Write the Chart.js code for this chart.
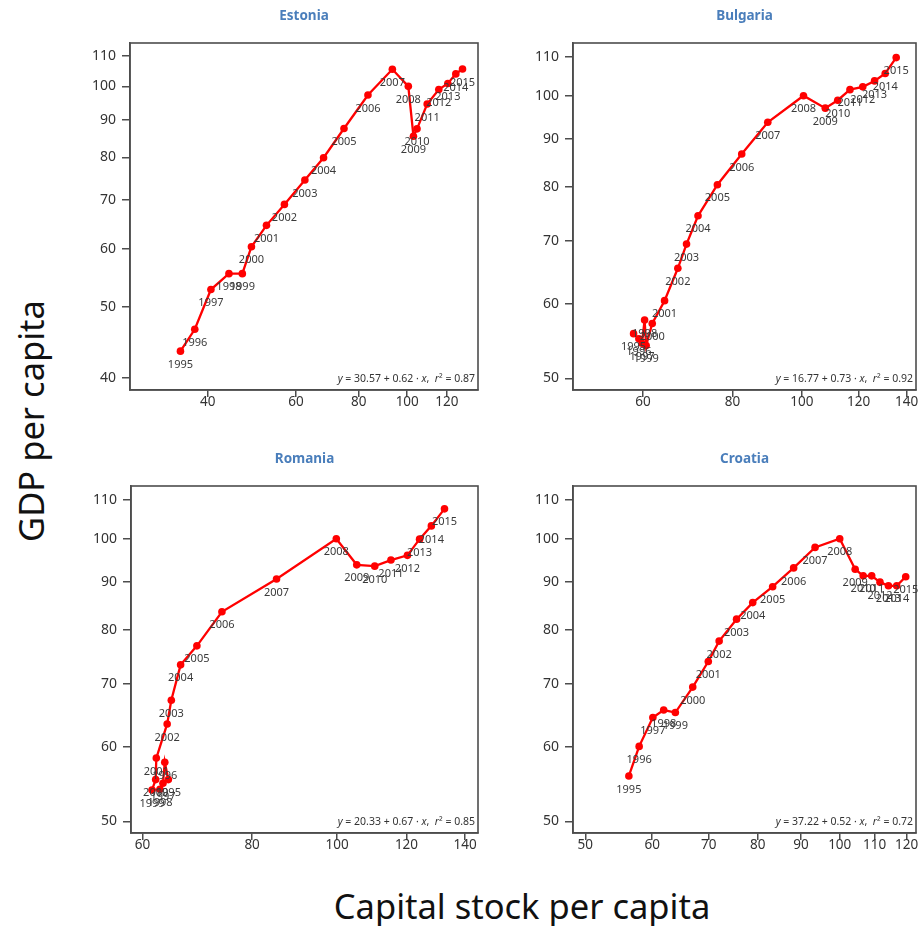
<!DOCTYPE html>
<html>
<head>
<meta charset="utf-8">
<script src="https://cdn.jsdelivr.net/npm/chart.js@4.4.1/dist/chart.umd.min.js"></script>
<style>
  body { margin: 0; background: #fff; width: 920px; height: 926px; position: relative; overflow: hidden; font-family: "Noto Sans", "Open Sans", sans-serif; }
  canvas { position: absolute; }
  #ytitle { position: absolute; left: 30px; top: 421px; transform: translate(-50%, -50%) rotate(-90deg); font-size: 34.5px; white-space: nowrap; color: #111; }
  #xtitle { position: absolute; left: 522px; top: 905px; transform: translate(-50%, -50%); font-size: 34.5px; white-space: nowrap; color: #111; }
</style>
</head>
<body>
<canvas id="estonia"></canvas>
<canvas id="bulgaria"></canvas>
<canvas id="romania"></canvas>
<canvas id="croatia"></canvas>
<div id="ytitle">GDP per capita</div>
<div id="xtitle">Capital stock per capita</div>
<script>
// years, one label per point
const years = ['1995','1996','1997','1998','1999','2000','2001','2002','2003','2004','2005',
               '2006','2007','2008','2009','2010','2011','2012','2013','2014','2015'];

// Estonia
const estoniaCapital = [35.3, 37.7, 40.6, 44.1, 46.9, 48.9, 52.4, 56.9, 62.5, 68.1, 74.8,
                        83.5, 93.4, 100.5, 102.9, 104.6, 109.6, 115.6, 120.5, 125.0, 128.9];
const estoniaGdp = [43.5, 46.6, 52.8, 55.5, 55.5, 60.4, 64.6, 69.0, 74.5, 79.9, 87.6,
                    97.3, 105.5, 100, 85.5, 87.5, 94.6, 99.0, 100.9, 104.0, 105.6];

// Bulgaria
const bulgariaCapital = [58.2, 59.2, 59.8, 60.3, 60.6, 61.8, 64.3, 67.1, 69.0, 71.6, 76.2,
                         82.4, 89.6, 100.5, 107.8, 112.2, 116.7, 121.6, 126.3, 130.7, 135.4];
const bulgariaGdp = [55.8, 55.1, 54.5, 57.7, 54.2, 57.2, 60.5, 65.5, 69.5, 74.5, 80.4,
                     86.7, 93.7, 100, 97.0, 98.9, 101.5, 102.2, 103.7, 105.6, 109.8];

// Romania
const romaniaCapital = [64.2, 63.6, 63.3, 62.8, 61.5, 62.1, 62.2, 64.0, 64.7, 66.3, 69.2,
                        73.9, 85.3, 99.8, 105.3, 110.4, 115.2, 120.3, 124.2, 128.1, 132.6];
const romaniaGdp = [55.4, 57.8, 54.9, 54.1, 54.0, 55.4, 58.4, 63.5, 67.3, 73.4, 76.9,
                    83.6, 90.6, 100, 93.8, 93.5, 94.9, 96.0, 99.9, 103.2, 107.6];

// Croatia
const croatiaCapital = [56.3, 57.9, 60.1, 61.9, 63.9, 67.0, 69.9, 72.0, 75.5, 78.9, 83.3,
                        88.2, 93.5, 100.0, 104.3, 106.6, 109.1, 111.6, 114.2, 116.8, 119.7];
const croatiaGdp = [55.9, 60.1, 64.5, 65.7, 65.3, 69.5, 74.0, 77.8, 82.1, 85.5, 88.9,
                    93.1, 97.9, 100, 92.8, 91.3, 91.3, 89.9, 89.1, 89.1, 91.1];

// tick values
const estoniaXTicks = [40, 60, 80, 100, 120];
const estoniaYTicks = [40, 50, 60, 70, 80, 90, 100, 110];
const bulgariaXTicks = [60, 80, 100, 120, 140];
const romaniaXTicks = [60, 80, 100, 120, 140];
const croatiaXTicks = [50, 60, 70, 80, 90, 100, 110, 120];
const otherYTicks = [50, 60, 70, 80, 90, 100, 110];

// regression text: intercept, slope, r2
const estoniaFit = ['30.57', '0.62', '0.87'];
const bulgariaFit = ['16.77', '0.73', '0.92'];
const romaniaFit = ['20.33', '0.67', '0.85'];
const croatiaFit = ['37.22', '0.52', '0.72'];

const AXIS = '#4d4d4d';
const TEXT = '#333';

const panelPlugin = {
  id: 'panelPlugin',
  afterDraw(chart) {
    const o = chart.options.plugins.panelPlugin;
    const ctx = chart.ctx;
    const a = chart.chartArea;
    ctx.save();
    // frame
    ctx.strokeStyle = AXIS;
    ctx.lineWidth = 1.6;
    ctx.strokeRect(a.left, a.top, a.right - a.left, a.bottom - a.top);
    // title
    ctx.fillStyle = '#4a7ebb';
    ctx.font = 'bold 13.5px "Noto Sans", sans-serif';
    ctx.textAlign = 'center';
    ctx.textBaseline = 'middle';
    ctx.fillText(o.title, (a.left + a.right) / 2, o.titleY);
    // year labels
    ctx.fillStyle = '#3a3a3a';
    ctx.font = '11px "Noto Sans", sans-serif';
    const meta = chart.getDatasetMeta(0);
    meta.data.forEach((pt, i) => {
      ctx.fillText(years[i], pt.x, pt.y + 13.5);
    });
    // equation
    const f = o.fit;
    const parts = [
      ['y', true], [' = ' + f[0] + ' + ' + f[1] + ' \u00b7 ', false], ['x', true],
      [',  ', false], ['r', true], ['\u00b2', false], [' = ' + f[2], false]
    ];
    const fontFor = it => (it ? 'italic ' : '') + '10.5px "Noto Sans", sans-serif';
    let w = 0;
    parts.forEach(p => { ctx.font = fontFor(p[1]); w += ctx.measureText(p[0]).width; });
    let x = a.right - 3 - w;
    ctx.textAlign = 'left';
    ctx.fillStyle = TEXT;
    parts.forEach(p => {
      ctx.font = fontFor(p[1]);
      ctx.fillText(p[0], x, a.bottom - 11);
      x += ctx.measureText(p[0]).width;
    });
    ctx.restore();
  }
};

function makePanel(id, frame, title, capital, gdp, xTicks, yTicks, xRange, yRange, fit) {
  const [l, t, r, b] = frame;
  const padLeft = 70, padTop = 43, padRight = 4, xAxisH = 30;
  const el = document.getElementById(id);
  const w = r - l + padLeft + padRight;
  const h = b - t + padTop + xAxisH;
  el.width = w; el.height = h;
  el.style.left = (l - padLeft) + 'px';
  el.style.top = (t - padTop) + 'px';
  el.style.width = w + 'px';
  el.style.height = h + 'px';

  const points = capital.map((c, i) => ({ x: c, y: gdp[i] }));
  const fixFit = (size) => (s) => {
    if (s.isHorizontal()) s.height = size; else s.width = size;
    s.paddingLeft = 0; s.paddingRight = 0; s.paddingTop = 0; s.paddingBottom = 0;
  };

  new Chart(el, {
    type: 'scatter',
    data: {
      datasets: [{
        data: points,
        showLine: true,
        borderColor: '#ff0000',
        backgroundColor: '#ff0000',
        borderWidth: 2.3,
        pointRadius: 3.8,
        pointBorderWidth: 0,
        clip: false
      }]
    },
    options: {
      responsive: false,
      animation: false,
      events: [],
      layout: { padding: { top: padTop, right: padRight, left: 0, bottom: 0 } },
      scales: {
        x: {
          type: 'logarithmic',
          bounds: 'data',
          min: xRange[0], max: xRange[1],
          afterBuildTicks: s => { s.ticks = xTicks.map(v => ({ value: v })); },
          afterFit: fixFit(xAxisH),
          grid: { display: true, drawOnChartArea: false, drawTicks: true, tickLength: 7, color: AXIS, lineWidth: 1.5 },
          border: { display: true, color: AXIS, width: 1.6 },
          ticks: { color: TEXT, font: { size: 13.5, family: '"Noto Sans", sans-serif' }, padding: -3, maxRotation: 0, autoSkip: false, callback: v => String(v) }
        },
        y: {
          type: 'logarithmic',
          bounds: 'data',
          min: yRange[0], max: yRange[1],
          afterBuildTicks: s => { s.ticks = yTicks.map(v => ({ value: v })); },
          afterFit: fixFit(padLeft),
          grid: { display: true, drawOnChartArea: false, drawTicks: true, tickLength: 8, color: AXIS, lineWidth: 1.5 },
          border: { display: true, color: AXIS, width: 1.6 },
          ticks: { color: TEXT, font: { size: 14, family: '"Noto Sans", sans-serif' }, padding: 6, autoSkip: false, callback: v => String(v) }
        }
      },
      plugins: {
        legend: { display: false },
        title: { display: false },
        tooltip: { enabled: false },
        panelPlugin: { title: title, titleY: 16, fit: fit }
      }
    },
    plugins: [panelPlugin]
  });
}

makePanel('estonia', [130, 43, 478, 390], 'Estonia', estoniaCapital, estoniaGdp,
  estoniaXTicks, estoniaYTicks, [28.0, 138.4], [38.5, 114.6], estoniaFit);
makePanel('bulgaria', [573, 43, 916, 390], 'Bulgaria', bulgariaCapital, bulgariaGdp,
  bulgariaXTicks, otherYTicks, [47.9, 144.3], [48.6, 113.8], bulgariaFit);
makePanel('romania', [131, 486, 478, 833], 'Romania', romaniaCapital, romaniaGdp,
  romaniaXTicks, otherYTicks, [58.2, 144.8], [48.6, 113.8], romaniaFit);
makePanel('croatia', [573, 486, 916, 833], 'Croatia', croatiaCapital, croatiaGdp,
  croatiaXTicks, otherYTicks, [48.35, 123.1], [48.6, 113.8], croatiaFit);
</script>
</body>
</html>
